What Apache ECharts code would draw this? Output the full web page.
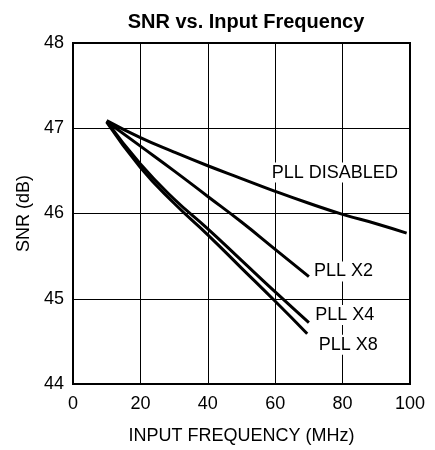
<!DOCTYPE html>
<html><head><meta charset="utf-8">
<script src="https://cdn.jsdelivr.net/npm/echarts@6/dist/echarts.min.js"></script>
<style>html,body{margin:0;padding:0;background:#fff}#c{width:435px;height:450px}</style>
</head><body><div id="c"></div>
<script>
const xTicks = [0, 20, 40, 60, 80, 100];
const yTicks = [44, 45, 46, 47, 48];
const pllDisabled = [[10,47.09],[20,46.89],[30,46.72],[40,46.56],[50,46.41],[60,46.26],[70,46.12],[80,45.99],[90,45.88],[99,45.77]];
const pllX2 = [[10,47.08],[20,46.79],[30,46.5],[40,46.2],[50,45.9],[60,45.58],[70,45.26]];
const pllX4 = [[10,47.08],[20,46.58],[30,46.17],[40,45.82],[50,45.45],[60,45.08],[70,44.72]];
const pllX8 = [[10,47.07],[20,46.54],[30,46.12],[40,45.75],[50,45.36],[60,44.97],[69.5,44.59]];
const labels = [
  {name:'PLL DISABLED', coord:[77.7,46.48], align:'center'},
  {name:'PLL X2', coord:[70.9,45.32], align:'left'},
  {name:'PLL X4', coord:[71.3,44.81], align:'left'},
  {name:'PLL X8', coord:[72.3,44.46], align:'left'}
];
const font = 'Liberation Sans, Arial, sans-serif';
const chart = echarts.init(document.getElementById('c'));
const mk = (data, extra) => Object.assign({
  type:'line', data, symbol:'none', smooth:true, silent:true,
  lineStyle:{color:'#000', width:3}, z:3
}, extra||{});
chart.setOption({
  animation:false,
  title:{text:'SNR vs. Input Frequency', left:241, textAlign:'center', top:7,
    textStyle:{fontFamily:font, fontWeight:'bold', fontSize:20, color:'#000'}},
  grid:{left:73, right:25, top:43, bottom:63, show:true, borderColor:'#000', borderWidth:2, backgroundColor:'transparent'},
  xAxis:{type:'value', min:xTicks[0], max:xTicks[xTicks.length-1], interval:20,
    name:'INPUT FREQUENCY (MHz)', nameLocation:'middle', nameGap:43,
    nameTextStyle:{fontFamily:font, fontSize:18, color:'#000'},
    axisLine:{show:true, lineStyle:{color:'#000', width:2}},
    axisTick:{show:false},
    axisLabel:{fontFamily:font, fontSize:18, color:'#000', margin:11},
    splitLine:{show:true, lineStyle:{color:'#000', width:1}}},
  yAxis:{type:'value', min:yTicks[0], max:yTicks[yTicks.length-1], interval:1,
    name:'SNR (dB)', nameLocation:'middle', nameGap:39,
    nameTextStyle:{fontFamily:font, fontSize:18, color:'#000'},
    axisLine:{show:true, lineStyle:{color:'#000', width:2}},
    axisTick:{show:false},
    axisLabel:{fontFamily:font, fontSize:18, color:'#000', margin:9},
    splitLine:{show:true, lineStyle:{color:'#000', width:1}}},
  series:[
    mk(pllDisabled, {markPoint:{symbolSize:0, silent:true, z:5,
      data: labels.map(l=>({coord:l.coord, value:l.name,
        label:{show:true, formatter:l.name, align:l.align, verticalAlign:'middle',
          fontFamily:font, fontSize:18, color:'#000', backgroundColor:'#fff', padding:[1,2]}}))}}),
    mk(pllX2), mk(pllX4), mk(pllX8)
  ]
});
</script></body></html>
